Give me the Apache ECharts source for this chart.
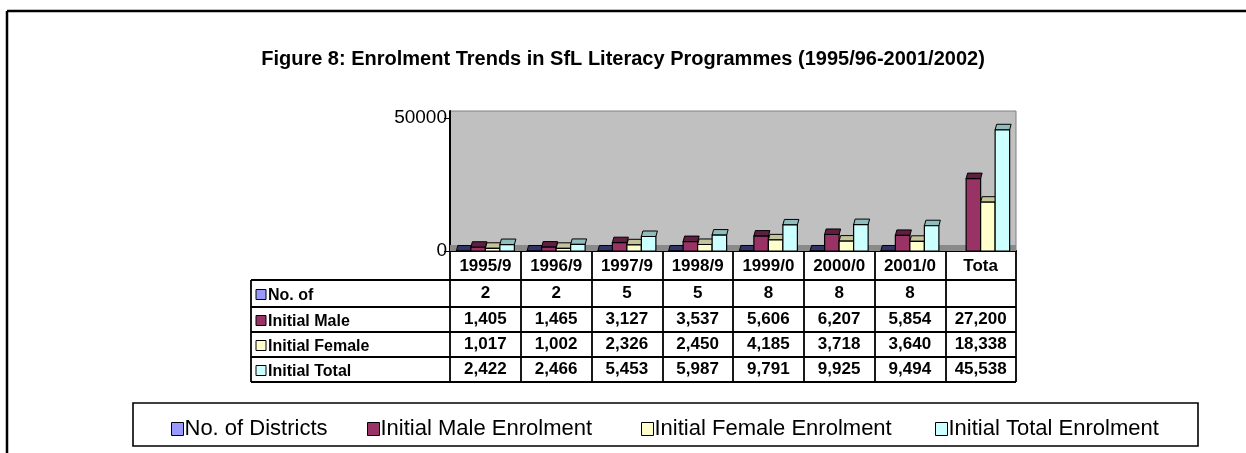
<!DOCTYPE html>
<html><head><meta charset="utf-8">
<script src="https://cdn.jsdelivr.net/npm/echarts@6/dist/echarts.min.js"></script>
<style>html,body{margin:0;padding:0;background:#fff}#c{width:1246px;height:453px}</style>
</head><body><div id="c"></div>
<script>
const categories = ['1995/9','1996/9','1997/9','1998/9','1999/0','2000/0','2001/0','Tota'];
const seriesNames = ['No. of Districts','Initial Male Enrolment','Initial Female Enrolment','Initial Total Enrolment'];
const tableRowLabels = ['No. of','Initial Male','Initial Female','Initial Total'];
const districts = [2,2,5,5,8,8,8,null];
const male = [1405,1465,3127,3537,5606,6207,5854,27200];
const female = [1017,1002,2326,2450,4185,3718,3640,18338];
const total = [2422,2466,5453,5987,9791,9925,9494,45538];
const yTickValues = [0, 50000];
const titleText = 'Figure 8: Enrolment Trends in SfL Literacy Programmes (1995/96-2001/2002)';

const allSeries = [districts, male, female, total];
const fronts = ['#9999FF','#993366','#FFFFCC','#CCFFFF'];
const caps = ['#333366','#5e1f40','#c4c49c','#8fbcbc'];
const FONT = 'Liberation Sans, Arial, sans-serif';

function fmt(v){ return v == null ? '' : v.toLocaleString('en-US'); }

function barRender(si){
  return function(params, api){
    const v = api.value(1);
    if (v == null || isNaN(v)) return;
    const i = api.value(0);
    const base = api.coord([i, 0]);
    const top = api.coord([i, v]);
    const band = api.size([1, 0])[0];
    const w = band * 0.205;
    const x0 = base[0] - band/2 + band*0.09 + si*w;
    const d = 5.5, dx = 1.5;
    return {type:'group', children:[
      {type:'polygon', shape:{points:[[x0,top[1]],[x0+w,top[1]],[x0+w+dx,top[1]-d],[x0+dx,top[1]-d]]},
        style:{fill:caps[si], stroke:'#000', lineWidth:1}},
      {type:'rect', shape:{x:x0, y:top[1], width:w, height:Math.max(base[1]-top[1],0)},
        style:{fill:fronts[si], stroke:'#000', lineWidth:1.2}}
    ]};
  };
}

const series = allSeries.map((arr, si) => ({
  type:'custom', name: seriesNames[si], xAxisIndex:0, yAxisIndex:0,
  itemStyle:{color: fronts[si], borderColor:'#000', borderWidth:1},
  renderItem: barRender(si), clip:false, z: 3,
  encode:{x:0, y:1},
  data: arr.map((v,i) => [i, v == null ? '-' : v])
}));

const rowOffsets = [28, 54, 79, 104];
const tableAxes = allSeries.map((arr, si) => ({
  type:'category', data: categories, gridIndex:0, position:'bottom', offset: rowOffsets[si],
  axisLine:{show:false}, axisTick:{show:false}, splitLine:{show:false},
  axisLabel:{interval:0, margin:6, fontFamily:FONT, fontWeight:'bold', fontSize:17, color:'#000',
    formatter:(val, idx) => fmt(arr[idx])}
}));

const rowLines = [280, 307, 332, 357, 382];
const graphics = [];
// outer frame
graphics.push({type:'line', shape:{x1:7,y1:11,x2:1246,y2:11}, style:{stroke:'#000', lineWidth:2.5}, z:10});
graphics.push({type:'line', shape:{x1:7,y1:11,x2:7,y2:453}, style:{stroke:'#000', lineWidth:2.5}, z:10});
// floor
graphics.push({type:'rect', shape:{x:450,y:245,width:566,height:6}, style:{fill:'#8a8a8a'}, z:1});
// table lines
rowLines.forEach(y => graphics.push({type:'line', shape:{x1:251,y1:y,x2:1016,y2:y}, style:{stroke:'#000', lineWidth:1.8}, z:10}));
graphics.push({type:'line', shape:{x1:251,y1:280,x2:251,y2:382}, style:{stroke:'#000', lineWidth:1.8}, z:10});
// row header labels
tableRowLabels.forEach((t, si) => {
  const yc = (rowLines[si] + rowLines[si+1]) / 2 + 1;
  graphics.push({type:'rect', shape:{x:256, y:yc-5, width:10, height:10}, style:{fill:fronts[si], stroke:'#000', lineWidth:1}, z:10});
  graphics.push({type:'text', x:268, y:yc + 1, style:{text:t, font:'bold 16px ' + FONT, fill:'#000', textVerticalAlign:'middle'}, z:10});
});
// legend box
graphics.push({type:'rect', shape:{x:133,y:403,width:1065,height:43}, style:{fill:'none', stroke:'#000', lineWidth:1.6}, z:10});

const legendLefts = [166, 362, 636, 930];
const legends = seriesNames.map((n, si) => ({
  data:[n], left: legendLefts[si], top: 413, orient:'horizontal',
  icon:'rect', itemWidth:12, itemHeight:13,
  itemStyle:{borderColor:'#000', borderWidth:1},
  textStyle:{fontFamily:FONT, fontSize:22, color:'#000', padding:[0,0,0,-4]},
  selectedMode:false
}));

const chart = echarts.init(document.getElementById('c'), null, {renderer:'canvas'});
chart.setOption({
  animation:false,
  backgroundColor:'#fff',
  title:{text:titleText, left:'center', top:44,
    textStyle:{fontFamily:FONT, fontWeight:'bold', fontSize:20, color:'#000'}},
  grid:{left:450, right:230, top:111, bottom:202, show:true, backgroundColor:'#C0C0C0', borderColor:'#808080', borderWidth:1},
  legend: legends,
  xAxis:[{
    type:'category', data: categories, gridIndex:0, position:'bottom',
    axisLine:{show:true, lineStyle:{color:'#000', width:2}},
    axisTick:{show:true, interval:0, alignWithLabel:false, length:131, lineStyle:{color:'#000', width:1.8}},
    axisLabel:{interval:0, margin:7, fontFamily:FONT, fontWeight:'bold', fontSize:17, color:'#000'},
    splitLine:{show:false}
  }].concat(tableAxes),
  yAxis:[{
    type:'value', min:0, max:52600,
    axisLine:{show:true, lineStyle:{color:'#000', width:2}},
    axisTick:{show:true, length:6, lineStyle:{color:'#000', width:1}, customValues: yTickValues},
    axisLabel:{fontFamily:FONT, fontSize:19, color:'#000', margin:3, customValues: yTickValues,
      formatter:(v) => String(v)},
    splitLine:{show:false}
  }],
  graphic: graphics,
  series: series
});
</script>
</body></html>
